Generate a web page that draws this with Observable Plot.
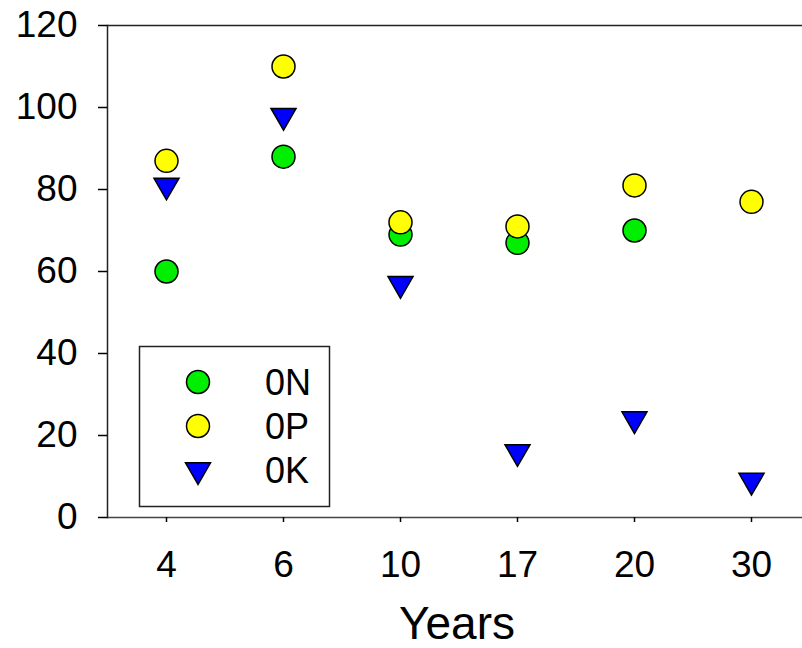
<!DOCTYPE html>
<html><head><meta charset="utf-8">
<script src="https://cdn.jsdelivr.net/npm/d3@7"></script>
<script src="https://cdn.jsdelivr.net/npm/@observablehq/plot@0.6"></script>
<style>
body{margin:0;background:#fff}
#wrap{position:relative;width:802px;height:648px;font-family:"Liberation Sans",Arial,sans-serif}
#wrap svg{display:block}
#legend{position:absolute;left:0;top:0;pointer-events:none}
</style>
</head><body><div id="wrap"></div>
<script>
const years = ["4", "6", "10", "17", "20", "30"];
const valuesN = [60, 88, 69, 67, 70, null];
const valuesP = [87, 110, 72, 71, 81, 77];
const valuesK = [81, 98, 57, 16, 24, 9];
const yTicks = [0, 20, 40, 60, 80, 100, 120];
const seriesNames = ["0N", "0P", "0K"];
const seriesColors = ["#00ee00", "#ffff00", "#0000ff"];
const xLabel = "Years";

function rows(vals) {
  return years.map((yr, i) => ({year: yr, value: vals[i]})).filter(d => d.value != null);
}
const dataN = rows(valuesN), dataP = rows(valuesP), dataK = rows(valuesK);

const font = "Liberation Sans, Arial, sans-serif";
const plot = Plot.plot({
  width: 802, height: 648,
  marginLeft: 107, marginRight: 0, marginTop: 25, marginBottom: 131,
  style: {fontFamily: font, color: "#000", background: "#fff", overflow: "visible"},
  x: {type: "point", domain: years, range: [166, 751], padding: 0, label: null},
  y: {domain: [0, 120], label: null},
  marks: [
    Plot.ruleY([0], {stroke: "#444", strokeWidth: 1.5}),
    Plot.ruleY([120], {stroke: "#222", strokeWidth: 1.5}),
    Plot.frame({anchor: "left", stroke: "#222", strokeWidth: 1.5}),
    Plot.axisY(yTicks, {tickSize: 9, tickPadding: 21, strokeWidth: 1.5, fontSize: 37, label: null}),
    Plot.axisX({tickSize: 5, tickPadding: 28, strokeWidth: 1.5, fontSize: 37, label: null}),
    Plot.dot(dataN, {x: "year", y: "value", r: 11.5, fill: seriesColors[0], stroke: "#000", strokeWidth: 1.5}),
    Plot.dot(dataP, {x: "year", y: "value", r: 11.5, fill: seriesColors[1], stroke: "#000", strokeWidth: 1.5}),
    Plot.dot(dataK, {x: "year", y: "value", symbol: "triangle", rotate: 180, r: 9.3, fill: seriesColors[2], stroke: "#000", strokeWidth: 1.5}),
    Plot.text([xLabel], {frameAnchor: "bottom", dy: 107, dx: 2, fontSize: 46, lineAnchor: "middle", fill: "#000"})
  ]
});
const wrap = document.getElementById("wrap");
wrap.appendChild(plot);

// legend overlay
const lg = d3.select(wrap).append("svg").attr("id", "legend").attr("width", 802).attr("height", 648);
lg.append("rect").attr("x", 139.5).attr("y", 346.5).attr("width", 190).attr("height", 160)
  .attr("fill", "#fff").attr("stroke", "#222").attr("stroke-width", 1.5);
const rowY = [382, 426, 470];
const baseY = [395, 438.5, 482.5];
seriesNames.forEach((name, i) => {
  const cx = 198, cy = rowY[i];
  if (i < 2) {
    lg.append("circle").attr("cx", cx).attr("cy", cy).attr("r", 11.5)
      .attr("fill", seriesColors[i]).attr("stroke", "#000").attr("stroke-width", 1.5);
  } else {
    const sym = d3.symbol(d3.symbolTriangle, Math.PI * 9.3 * 9.3)();
    lg.append("path").attr("d", sym).attr("transform", `translate(${cx},${cy}) rotate(180)`)
      .attr("fill", seriesColors[i]).attr("stroke", "#000").attr("stroke-width", 1.5);
  }
  lg.append("text").attr("x", 265).attr("y", baseY[i]).attr("font-family", font)
    .attr("font-size", 36).attr("fill", "#000").text(name);
});
</script>
</body></html>
